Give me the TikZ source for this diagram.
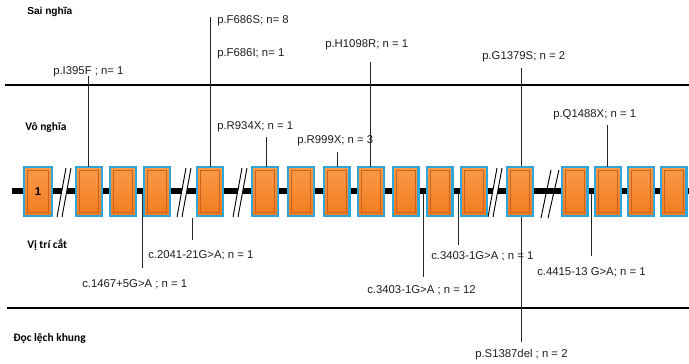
\documentclass[tikz,border=0pt]{standalone}
\usepackage{fontspec}
\setmainfont{Liberation Sans}
\newfontfamily\calib{Carlito}
\usetikzlibrary{shadows}
\definecolor{exonborder}{HTML}{2FA6DA}
\definecolor{exontop}{HTML}{FA9A48}
\definecolor{exonbot}{HTML}{F27A1E}
\definecolor{exonline}{HTML}{C8621C}
\definecolor{labelc}{HTML}{1E1E1E}
\begin{document}
\begin{tikzpicture}[x=0.75pt,y=-0.75pt,
  exon/.style={draw=exonborder, line width=1.6pt, top color=exontop, bottom color=exonbot,
    minimum width=19.4pt, minimum height=36.6pt, inner sep=0pt, outer sep=0pt,
    drop shadow={opacity=0.25, shadow xshift=0.6pt, shadow yshift=-0.9pt},
    path picture={\draw[exonline, line width=0.6pt]
      ([xshift=2.6pt,yshift=-2.6pt]path picture bounding box.north west) rectangle
      ([xshift=-2.6pt,yshift=2.6pt]path picture bounding box.south east);}},
  lab/.style={anchor=west, inner sep=0pt, font=\fontsize{8.5}{10}\selectfont, text=labelc},
  sec/.style={anchor=west, inner sep=0pt, font=\calib\bfseries\fontsize{8.6}{10}\selectfont},
  conn/.style={draw=black!85, line width=0.75pt},
  sepline/.style={draw=black, line width=1.1pt},
  backbone/.style={draw=black, line width=3.8pt},
  slash/.style={draw=black, line width=0.7pt}]
\useasboundingbox (0,0) rectangle (689,364);

% section separators
\coordinate (s1a) at (5,85);   \coordinate (s1b) at (689,85);
\coordinate (s2a) at (7,308);  \coordinate (s2b) at (689,308);
\draw[sepline] (s1a) -- (s1b);
\draw[sepline] (s2a) -- (s2b);

% section titles
\node[sec, font=\bfseries\fontsize{7.6}{9}\selectfont] (tsai) at (27,12) {Sai nghĩa};
\node[sec] (tvo) at (25,127) {Vô nghĩa};
\node[sec] (tvi) at (27,245) {Vị trí cắt};
\node[sec] (tdoc) at (13,338) {Đọc lệch khung};

% backbone
\coordinate (bbA) at (12,191); \coordinate (bbB) at (689,191);
\draw[backbone] (bbA) -- (bbB);

% long line through exon 13
\coordinate (t4) at (521,68); \coordinate (b4) at (521,342);
\draw[conn] (t4) -- (b4);

% break marks
\foreach \bx/\nm in {57/k1,177/k2,233/k3,488/k4}{
  \fill[white] (\bx,217) -- (\bx+9,168) -- (\bx+14,168) -- (\bx+5,217) -- cycle;
  \draw[slash] (\bx,217) -- (\bx+9,168) (\bx+5,217) -- (\bx+14,168);
}
\draw[slash] (541,218) -- (551,170) (548,218) -- (559,170);

% exons
\node[exon, minimum width=21pt] (e1) at (38,191.5) {};
\node[font=\bfseries\fontsize{8.5}{10}\selectfont] (n1) at (e1.center) {1};
\foreach \i/\cx in {2/89,3/123,4/157,5/210,6/265,7/301,8/336.5,9/371,10/405.5,11/439.5,12/474,13/520,14/574.5,15/608,16/641,17/673.5}{
  \node[exon] (e\i) at (\cx,191.5) {};
}

% labels above
\node[lab] (lI395F) at (53,72) {p.I395F ; n= 1};
\node[lab] (lF686S) at (217,21) {p.F686S; n= 8};
\node[lab] (lF686I) at (217,54) {p.F686I; n= 1};
\node[lab] (lH1098R) at (325,45) {p.H1098R; n = 1};
\node[lab] (lG1379S) at (482,57) {p.G1379S; n = 2};
\node[lab] (lR934X) at (217,127) {p.R934X; n = 1};
\node[lab] (lR999X) at (297,141) {p.R999X; n = 3};
\node[lab] (lQ1488X) at (553,115) {p.Q1488X; n = 1};

% labels below
\node[lab] (l2041) at (148,255) {c.2041-21G>A; n = 1};
\node[lab] (l1467) at (82,284) {c.1467+5G>A ; n = 1};
\node[lab] (l3403a) at (431,256) {c.3403-1G>A ; n = 1};
\node[lab] (l3403b) at (367,290) {c.3403-1G>A ; n = 12};
\node[lab] (l4415) at (537,272) {c.4415-13 G>A; n = 1};
\node[lab] (lS1387) at (475,355) {p.S1387del ; n = 2};

% connectors to exons (top)
\coordinate (t1) at (88,76);   \draw[conn] (t1) -- (t1 |- e2.north);
\coordinate (t2) at (210,17);  \draw[conn] (t2) -- (t2 |- e5.north);
\coordinate (t3) at (370,62);  \draw[conn] (t3) -- (t3 |- e9.north);
\coordinate (t5) at (607,125); \draw[conn] (t5) -- (t5 |- e15.north);
\coordinate (t6) at (266,137); \draw[conn] (t6) -- (t6 |- e6.north);
\coordinate (t7) at (337,152); \draw[conn] (t7) -- (t7 |- e8.north);

% connectors from backbone (bottom)
\coordinate (u8) at (142,192);  \coordinate (d8) at (142,268);  \draw[conn] (u8) -- (d8);
\coordinate (u9) at (192,218);  \coordinate (d9) at (192,240);  \draw[conn] (u9) -- (d9);
\coordinate (u10) at (423,193); \coordinate (d10) at (423,277); \draw[conn] (u10) -- (d10);
\coordinate (u11) at (458,193); \coordinate (d11) at (458,245); \draw[conn] (u11) -- (d11);
\coordinate (u12) at (591,193); \coordinate (d12) at (591,256); \draw[conn] (u12) -- (d12);
\end{tikzpicture}
\end{document}
